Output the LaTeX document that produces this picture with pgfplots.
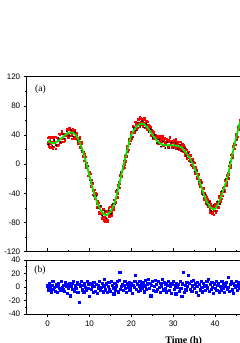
\documentclass[border=0pt]{standalone}
\usepackage{fontspec}
\setmainfont{Liberation Sans}
\newfontfamily\seriff{Liberation Serif}
\usepackage{pgfplots}
\pgfplotsset{compat=1.18}
\definecolor{fitgreen}{RGB}{0,230,0}
\pgfplotsset{
  common/.style={
    scale only axis, width=314pt,
    xmin=-5, xmax=70,
    axis line style={line width=0.8pt, black},
    tick style={line width=0.6pt, black},
    xtick={0,10,...,70}, minor x tick num=1,
    tick align=outside, xtick pos=bottom, ytick pos=left,
    major tick length=3pt, minor tick length=1.8pt,
    ticklabel style={font=\fontsize{8}{9}\selectfont},
    /pgf/number format/assume math mode=true,
    clip=false, clip marker paths=true,
  }
}
\begin{document}
\begin{tikzpicture}[x=1pt,y=1pt]
\begin{scope}
\clip (0,0) rectangle (240,343);
\begin{axis}[common,
  at={(26.7pt,91.3pt)}, anchor=south west, height=175pt,
  ymin=-120, ymax=120,
  ytick={-120,-80,...,120}, minor y tick num=1,
  xticklabels={},
  major x tick style={yshift=3.5pt}, minor x tick style={yshift=1.8pt},
]
\addplot[only marks, mark=square*, mark size=0.75pt, color=red] coordinates {
(0,36)(0.25,25)(0.5,37)(0.75,28)(1,30)(1.25,21)(1.5,34)(1.75,38)(2,27)(2.25,26)(2.5,34)(2.75,42)(3,30)(3.25,35)(3.5,42)(3.75,31)(4,42)(4.25,39)(4.5,49)(4.75,37)(5,37)(5.25,47)(5.5,44)(5.75,40)(6,48)(6.25,38)(6.5,46)(6.75,37)(7,41)(7.25,29)(7.5,35)(7.75,23)(8,31)(8.25,17)(8.5,17)(8.75,5)(9,10)(9.25,-4)(9.5,-2)(9.75,-16)(10,-11)(10.25,-25)(10.5,-21)(10.75,-36)(11,-36)(11.25,-47)(11.5,-40)(11.75,-54)(12,-51)(12.25,-65)(12.5,-58)(12.75,-67)(13,-74)(13.25,-62)(13.5,-73)(13.75,-79)(14,-64)(14.25,-76)(14.5,-64)(14.75,-71)(15,-58)(15.25,-66)(15.5,-54)(15.75,-59)(16,-49)(16.25,-52)(16.5,-36)(16.75,-40)(17,-25)(17.25,-27)(17.5,-11)(17.75,-16)(18,-2)(18.25,-5)(18.5,11)(18.75,11)(19,25)(19.25,20)(19.5,35)(19.75,32)(20,44)(20.25,38)(20.5,51)(20.75,46)(21,57)(21.25,47)(21.5,61)(21.75,56)(22,65)(22.25,58)(22.5,62)(22.75,52)(23,61)(23.25,56)(23.5,59)(23.75,47)(24,54)(24.25,48)(24.5,51)(24.75,40)(25,45)(25.25,35)(25.5,40)(25.75,40)(26,35)(26.25,28)(26.5,37)(26.75,30)(27,36)(27.25,31)(27.5,38)(27.75,33)(28,35)(28.25,28)(28.5,33)(28.75,24)(29,31)(29.25,27)(29.5,32)(29.75,23)(30,30)(30.25,25)(30.5,31)(30.75,21)(31,28)(31.25,22)(31.5,26)(31.75,19)(32,27)(32.25,17)(32.5,26)(32.75,14)(33,21)(33.25,8)(33.5,15)(33.75,5)(34,12)(34.25,-1)(34.5,7)(34.75,-5)(35,2)(35.25,-13)(35.5,-8)(35.75,-19)(36,-13)(36.25,-27)(36.5,-21)(36.75,-37)(37,-32)(37.25,-46)(37.5,-39)(37.75,-51)(38,-45)(38.25,-58)(38.5,-53)(38.75,-62)(39,-55)(39.25,-67)(39.5,-58)(39.75,-64)(40,-55)(40.25,-64)(40.5,-52)(40.75,-59)(41,-44)(41.25,-51)(41.5,-38)(41.75,-43)(42,-31)(42.25,-36)(42.5,-20)(42.75,-25)(43,-12)(43.25,-14)(43.5,2)(43.75,-1)(44,14)(44.25,12)(44.5,28)(44.75,27)(45,41)(45.25,38)(45.5,51)(45.75,50)(46,61)(46.25,58)(46.5,70)(46.75,68)(47,77)
};
\addplot[only marks, mark=square*, mark size=0.75pt, color=red] coordinates {
(0.125,29)(0.375,37)(0.625,23)(0.875,31)(1.125,37)(1.375,24)(1.625,30)(1.875,21)(2.125,36)(2.375,35)(2.625,27)(2.875,41)(3.125,31)(3.375,45)(3.625,35)(3.875,42)(4.125,33)(4.375,42)(4.625,48)(4.875,40)(5.125,50)(5.375,39)(5.625,46)(5.875,35)(6.125,44)(6.375,47)(6.625,35)(6.875,43)(7.125,30)(7.375,36)(7.625,37)(7.875,23)(8.125,28)(8.375,11)(8.625,15)(8.875,14)(9.125,-2)(9.375,2)(9.625,-16)(9.875,-10)(10.125,-13)(10.375,-30)(10.625,-26)(10.875,-42)(11.125,-35)(11.375,-47)(11.625,-41)(11.875,-59)(12.125,-53)(12.375,-67)(12.625,-57)(12.875,-69)(13.125,-61)(13.375,-77)(13.625,-67)(13.875,-76)(14.125,-65)(14.375,-78)(14.625,-60)(14.875,-69)(15.125,-70)(15.375,-56)(15.625,-62)(15.875,-49)(16.125,-53)(16.375,-37)(16.625,-45)(16.875,-29)(17.125,-32)(17.375,-15)(17.625,-17)(17.875,-3)(18.125,5)(18.375,0)(18.625,4)(18.875,22)(19.125,17)(19.375,33)(19.625,28)(19.875,42)(20.125,35)(20.375,52)(20.625,43)(20.875,58)(21.125,55)(21.375,50)(21.625,62)(21.875,55)(22.125,63)(22.375,54)(22.625,59)(22.875,61)(23.125,63)(23.375,51)(23.625,54)(23.875,58)(24.125,51)(24.375,53)(24.625,40)(24.875,47)(25.125,38)(25.375,44)(25.625,37)(25.875,38)(26.125,39)(26.375,29)(26.625,39)(26.875,32)(27.125,34)(27.375,39)(27.625,26)(27.875,36)(28.125,30)(28.375,35)(28.625,23)(28.875,33)(29.125,37)(29.375,28)(29.625,32)(29.875,24)(30.125,33)(30.375,27)(30.625,34)(30.875,23)(31.125,30)(31.375,20)(31.625,31)(31.875,23)(32.125,28)(32.375,17)(32.625,23)(32.875,12)(33.125,20)(33.375,9)(33.625,17)(33.875,6)(34.125,13)(34.375,-2)(34.625,4)(34.875,3)(35.125,-10)(35.375,-4)(35.625,-18)(35.875,-13)(36.125,-14)(36.375,-30)(36.625,-25)(36.875,-40)(37.125,-33)(37.375,-48)(37.625,-42)(37.875,-54)(38.125,-48)(38.375,-57)(38.625,-51)(38.875,-66)(39.125,-57)(39.375,-65)(39.625,-69)(39.875,-57)(40.125,-66)(40.375,-52)(40.625,-59)(40.875,-46)(41.125,-54)(41.375,-41)(41.625,-47)(41.875,-32)(42.125,-37)(42.375,-22)(42.625,-29)(42.875,-15)(43.125,-19)(43.375,-2)(43.625,-4)(43.875,13)(44.125,9)(44.375,25)(44.625,21)(44.875,37)(45.125,34)(45.375,48)(45.625,47)(45.875,60)(46.125,56)(46.375,69)(46.625,66)(46.875,77)
};
\addplot[only marks, mark=*, mark size=0.7pt, color=black] coordinates {
(0.1,27)(0.6,33)(1.1,25)(1.6,33)(2.1,26)(2.6,36)(3.1,30)(3.6,41)(4.1,35)(4.6,45)(5.1,39)(5.6,47)(6.1,38)(6.6,44)(7.1,33)(7.6,34)(8.1,19)(8.6,17)(9.1,0)(9.6,-3)(10.1,-22)(10.6,-25)(11.1,-44)(11.6,-44)(12.1,-60)(12.6,-57)(13.1,-71)(13.6,-64)(14.1,-74)(14.6,-63)(15.1,-68)(15.6,-54)(16.1,-55)(16.6,-35)(17.1,-32)(17.6,-11)(18.1,-7)(18.6,13)(19.1,17)(19.6,35)(20.1,37)(20.6,50)(21.1,46)(21.6,57)(22.1,51)(22.6,59)(23.1,50)(23.6,55)(24.1,44)(24.6,48)(25.1,36)(25.6,40)(26.1,29)(26.6,34)(27.1,24)(27.6,31)(28.1,22)(28.6,30)(29.1,22)(29.6,30)(30.1,22)(30.6,29)(31.1,21)(31.6,27)(32.1,18)(32.6,22)(33.1,11)(33.6,15)(34.1,3)(34.6,4)(35.1,-10)(35.6,-9)(36.1,-24)(36.6,-25)(37.1,-42)(37.6,-41)(38.1,-56)(38.6,-52)(39.1,-64)(39.6,-56)(40.1,-64)(40.6,-51)(41.1,-54)(41.6,-37)(42.1,-37)(42.6,-20)(43.1,-18)(43.6,3)(44.1,8)(44.6,29)(45.1,34)(45.6,53)(46.1,55)(46.6,72)
};
\addplot[smooth, line width=1.8pt, color=fitgreen, mark=none] coordinates {
(0,32)(1,29)(2,30)(3,34)(4,39)(5,43)(6,43)(7,38)(8,25)(9,6)(10,-16)(11,-38)(12,-55)(13,-66)(14,-70)(15,-65)(16,-53)(17,-30)(18,-5)(19,19)(20,40)(21,50)(22,55)(23,55)(24,49)(25,41)(26,33)(27,28)(28,26)(29,26)(30,26)(31,25)(32,23)(33,16)(34,8)(35,-4)(36,-18)(37,-36)(38,-51)(39,-60)(40,-61)(41,-51)(42,-35)(43,-17)(44,10)(45,36)(46,58)(47,75)(48,85)
};
\node[font=\seriff\fontsize{9.5}{10}\selectfont] at (rel axis cs:0.044,0.93) {(a)};
\end{axis}
\begin{axis}[common,
  at={(26.7pt,29pt)}, anchor=south west, height=54pt,
  ymin=-40, ymax=40,
  ytick={-40,-20,...,40}, minor y tick num=1,
  xticklabels={0,10,20,30,40},
  xlabel={Time (h)},
  xlabel style={font=\seriff\bfseries\fontsize{10}{11}\selectfont, at={(axis description cs:0.5,0)}, anchor=base, yshift=-29.3pt},
]
\addplot[only marks, mark=square*, mark size=1.1pt, color=blue] coordinates {
(0,2)(0.2,-4)(0.4,5)(0.6,-1)(0.8,-7)(1.0,3)(1.2,8)(1.4,-3)(1.6,0)(1.8,-6)
(2.0,4)(2.2,-8)(2.4,1)(2.6,6)(2.8,-2)(3.0,-5)(3.2,9)(3.4,0)(3.6,-4)(3.8,3)
(4.0,-6)(4.2,7)(4.4,2)(4.6,-9)(4.8,4)(5.0,-1)(5.2,5)(5.4,-13)(5.6,1)(5.8,6)
(6.0,-3)(6.2,8)(6.4,-6)(6.6,2)(6.8,-2)(7.0,7)(7.2,-8)(7.4,4)(7.6,-22)(7.8,1)
(8.0,9)(8.2,-4)(8.4,3)(8.6,-7)(8.8,5)(9.0,0)(9.2,-5)(9.4,8)(9.6,-2)(9.8,4)
(10.0,-14)(10.2,6)(10.4,-3)(10.6,2)(10.8,-8)(11.0,7)(11.2,1)(11.4,-6)(11.6,4)(11.8,-9)
(12.0,3)(12.2,-2)(12.4,8)(12.6,-5)(12.8,0)(13.0,6)(13.2,-7)(13.4,2)(13.6,11)(13.8,-4)
(14.0,5)(14.2,-8)(14.4,1)(14.6,7)(14.8,-3)(15.0,-6)(15.2,9)(15.4,3)(15.6,-1)(15.8,-10)
(16.0,6)(16.2,-4)(16.4,2)(16.6,8)(16.8,-7)(17.0,10)(17.2,22)(17.4,-3)(17.6,1)(17.8,4)
(18.0,-5)(18.2,3)(18.4,9)(18.6,-2)(18.8,-8)(19.0,5)(19.2,0)(19.4,7)(19.6,-4)(19.8,2)
(20.0,6)(20.2,-9)(20.4,3)(20.6,0)(20.8,8)(21.0,17)(21.2,-3)(21.4,5)(21.6,-6)(21.8,2)
(22.0,9)(22.2,-4)(22.4,4)(22.6,-1)(22.8,7)(23.0,-7)(23.2,2)(23.4,10)(23.6,-3)(23.8,5)
(24.0,12)(24.2,-2)(24.4,6)(24.6,-13)(24.8,3)(25.0,8)(25.2,-5)(25.4,1)(25.6,10)(25.8,-6)
(26.0,4)(26.2,-3)(26.4,9)(26.6,0)(26.8,-8)(27.0,6)(27.2,2)(27.4,11)(27.6,-4)(27.8,7)
(28.0,-2)(28.2,5)(28.4,-7)(28.6,3)(28.8,9)(29.0,-5)(29.2,1)(29.4,6)(29.6,-9)(29.8,4)
(30.0,8)(30.2,-3)(30.4,2)(30.6,-10)(30.8,6)(31.0,0)(31.2,4)(31.4,-6)(31.6,9)(31.8,-2)
(32.0,-14)(32.2,5)(32.4,22)(32.6,-8)(32.8,3)(33.0,-4)(33.2,7)(33.4,1)(33.6,17)(33.8,6)
(34.0,-3)(34.2,8)(34.4,-6)(34.6,2)(34.8,10)(35.0,-2)(35.2,5)(35.4,-8)(35.6,1)(35.8,7)
(36.0,-12)(36.2,4)(36.4,-4)(36.6,9)(36.8,0)(37.0,-7)(37.2,6)(37.4,2)(37.6,-5)(37.8,3)
(38.0,8)(38.2,-1)(38.4,11)(38.6,-6)(38.8,4)(39.0,-3)(39.2,7)(39.4,0)(39.6,-9)(39.8,5)
(40.0,-2)(40.2,9)(40.4,-5)(40.6,3)(40.8,6)(41.0,-7)(41.2,1)(41.4,-4)(41.6,8)(41.8,-1)
(42.0,5)(42.2,-8)(42.4,2)(42.6,7)(42.8,-3)(43.0,0)(43.2,14)(43.4,-6)(43.6,4)(43.8,9)
(44.0,-4)(44.2,6)(44.4,-9)(44.6,3)(44.8,0)(45.0,8)(45.2,-5)(45.4,2)(45.6,7)(45.8,-2)
(46.0,4)(46.2,-6)(46.4,1)(46.6,9)(46.8,-3)
};
\node[font=\seriff\fontsize{9.5}{10}\selectfont] at (rel axis cs:0.042,0.806) {(b)};
\end{axis}
\end{scope}
\pgfresetboundingbox
\useasboundingbox (0,0) rectangle (240,343);
\end{tikzpicture}
\end{document}
